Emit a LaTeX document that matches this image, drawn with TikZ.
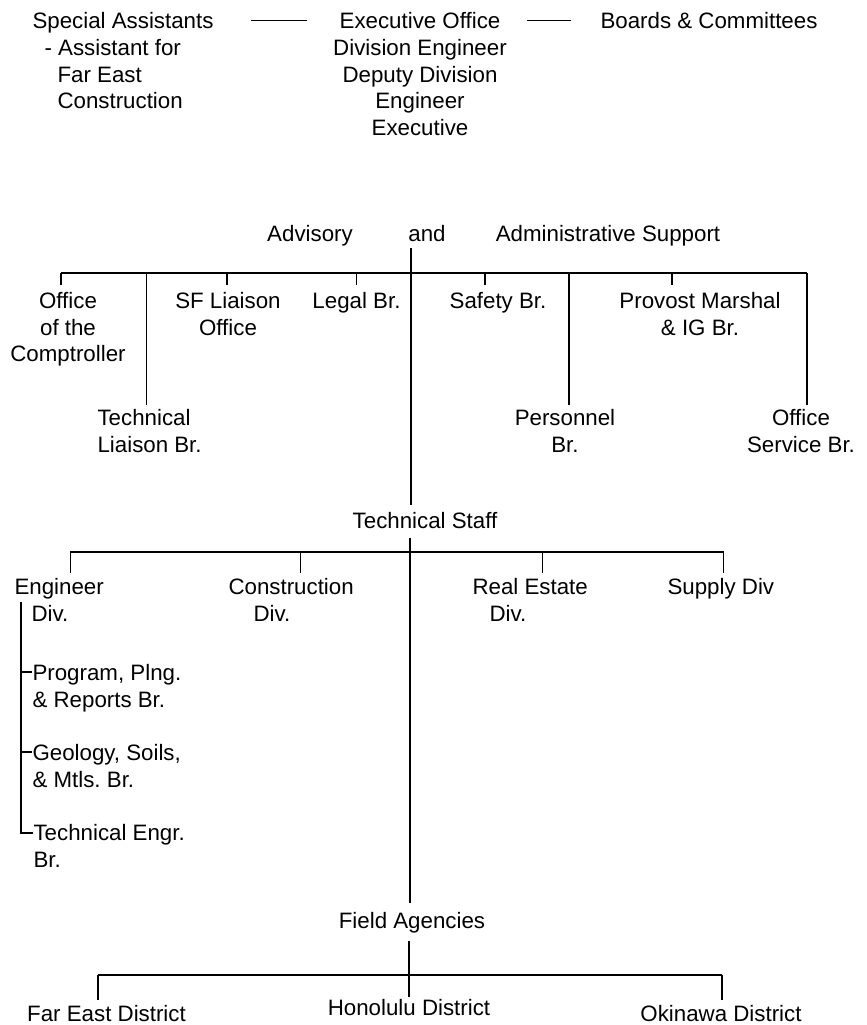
\documentclass[tikz,border=0pt]{standalone}
\usepackage{fontspec}
\setmainfont{Liberation Sans}
\frenchspacing
\newcommand\orgfont{\fontsize{22.3}{26.5}\selectfont}
\begin{document}
\begin{tikzpicture}[x=1pt,y=-1pt,line width=1.1pt,
  every node/.style={inner sep=0pt,font=\orgfont},
  unit/.style={align=center,anchor=north},
  unitl/.style={align=left,anchor=north west}]
\useasboundingbox (0,0) rectangle (867,1025);
% top
\node[unitl] (spec) at (32,12) {Special Assistants};
\node[unitl] (spec2) at (44,39) {- Assistant for\\\hspace*{13pt}Far East\\\hspace*{13pt}Construction};
\node[unit] (exec) at (420,12) {Executive Office};
\node[unit] (exec2) at (420,39) {Division Engineer\\Deputy Division\\Engineer\\Executive};
\node[unit] (boards) at (709,12) {Boards \& Committees};
\draw[shorten <=37pt,shorten >=32pt] (exec.west -| spec.east) -- (exec.west);
\draw[shorten <=26pt,shorten >=29pt] (exec.east) -- (exec.east -| boards.west);
% advisory and administrative support
\node[unit] (advis) at (310,225) {Advisory};
\node[unit] (and) at (427,225) {and};
\node[unit] (admin) at (608,225) {Administrative Support};
\coordinate (advbar) at (411,273);
\node[unit] (comp) at (68,292) {Office\\of the\\Comptroller};
\node[unit] (sf) at (228,292) {SF Liaison\\Office};
\node[unit] (legal) at (356.5,292) {Legal Br.};
\node[unit] (safety) at (498,292) {Safety Br.};
\node[unit] (provost) at (700,292) {Provost Marshal\\\& IG Br.};
\node[unitl] (techl) at (97,409) {Technical\\Liaison Br.};
\node[unit] (pers) at (565,409) {Personnel\\Br.};
\node[unit] (offserv) at (801,409) {Office\\Service Br.};
\draw ([xshift=-7pt]comp.north |- advbar) -- ([xshift=6pt]offserv.north |- advbar);
\foreach \n/\dx in {comp/-7,sf/-1,legal/0,safety/-13,provost/-28}
  \draw ([xshift=\dx pt]\n.north |- advbar) -- ++(0,12);
\foreach \n/\dx in {techl/-3,pers/4,offserv/6}
  \draw[shorten >=4pt] ([xshift=\dx pt]\n.north |- advbar) -- ([xshift=\dx pt]\n.north);
% technical staff
\node[unit] (tech) at (425,512) {Technical Staff};
\draw[shorten <=6pt,shorten >=7pt] (and.south -| advbar) -- (tech.north -| advbar);
\coordinate (techbar) at (410,552);
\node[unitl] (eng) at (14,578) {Engineer\\\hspace*{17pt}Div.};
\node[unitl] (cons) at (228,578) {Construction\\\hspace*{25pt}Div.};
\node[unitl] (real) at (472,578) {Real Estate\\\hspace*{17pt}Div.};
\node[unitl] (supply) at (667,578) {Supply Div};
\draw ([xshift=11pt]eng.north |- techbar) -- ([xshift=3pt]supply.north |- techbar);
\foreach \n/\dx in {eng/11,cons/9,real/12,supply/3}
  \draw ([xshift=\dx pt]\n.north |- techbar) -- ++(0,21);
\node[unitl] (prog) at (32,664) {Program, Plng.\\\& Reports Br.};
\node[unitl] (geo) at (32,744) {Geology, Soils,\\\& Mtls. Br.};
\node[unitl] (techengr) at (33,824) {Technical Engr.\\Br.};
\coordinate (engspine) at (21,602);
\draw (engspine) |- ([yshift=-9pt]techengr.north west);
\foreach \n in {prog,geo}
  \draw ([yshift=-8pt]\n.north west) -- ++(-11,0);
% field agencies
\node[unit] (field) at (412,912) {Field Agencies};
\draw[shorten <=9pt,shorten >=9pt] (tech.south -| techbar) -- (field.north -| techbar);
\coordinate (fieldbar) at (409,975);
\node[unit] (fareast) at (106.5,1005) {Far East District};
\node[unit] (hono) at (409,999) {Honolulu District};
\node[unit] (okin) at (721,1005) {Okinawa District};
\draw[shorten <=7pt,shorten >=2pt] (field.south -| fieldbar) -- (hono.north -| fieldbar);
\draw ([xshift=-8.5pt]fareast.north |- fieldbar) -- ([xshift=1pt]okin.north |- fieldbar);
\foreach \n/\dx in {fareast/-8.5,okin/1}
  \draw[shorten >=5pt] ([xshift=\dx pt]\n.north |- fieldbar) -- ([xshift=\dx pt]\n.north);
\end{tikzpicture}
\end{document}
